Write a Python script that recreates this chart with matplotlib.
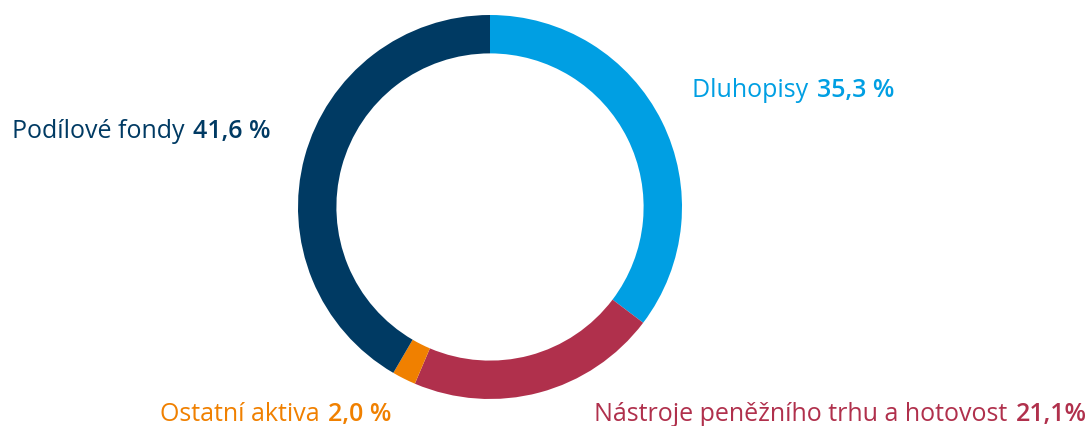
import matplotlib.pyplot as plt

# data
labels = ['Dluhopisy', 'Nástroje peněžního trhu a hotovost', 'Ostatní aktiva', 'Podílové fondy']
values = [35.3, 21.1, 2.0, 41.6]
value_texts = ['35,3 %', '21,1%', '2,0 %', '41,6 %']
colors = ['#009fe3', '#b0304c', '#f08000', '#003a63']

W, H = 1086, 427
fig = plt.figure(figsize=(W / 100, H / 100), dpi=100)
plt.rcParams['font.family'] = ['Open Sans', 'DejaVu Sans']

# donut, center (490, 208) px, outer radius 192
cx, cy, r = 490, 208, 192
ax = fig.add_axes([(cx - r) / W, (H - cy - r) / H, 2 * r / W, 2 * r / H])
ax.pie(values, colors=colors, startangle=90, counterclock=False, radius=1,
       wedgeprops=dict(width=0.2, linewidth=0))
ax.set_xlim(-1, 1)
ax.set_ylim(-1, 1)
ax.axis('off')

# label positions (left x, baseline y) in pixels
label_pos = [(692, 97), (594, 421), (160, 421), (12, 138)]

fig.canvas.draw()
renderer = fig.canvas.get_renderer()
for name, vt, col, (x, y) in zip(labels, value_texts, colors, label_pos):
    t = fig.text(x / W, 1 - y / H, name + ' ', color=col, fontsize=18,
                 va='baseline', ha='left')
    bb = t.get_window_extent(renderer)
    fig.text(bb.x1 / W + 2 / W, 1 - y / H, vt, color=col, fontsize=18,
             fontweight='semibold', va='baseline', ha='left')

plt.savefig('out.png', dpi=100)
